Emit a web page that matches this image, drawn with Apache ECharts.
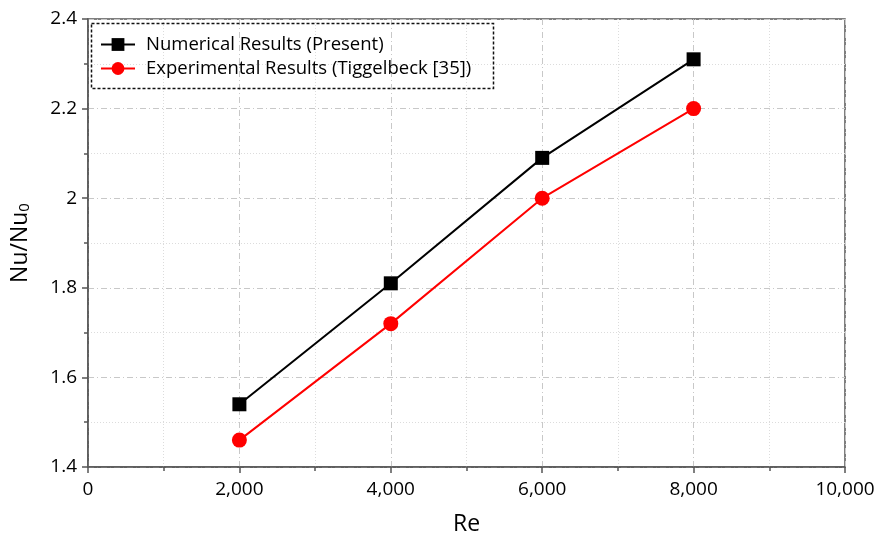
<!DOCTYPE html>
<html><head><meta charset="utf-8">
<script src="https://cdn.jsdelivr.net/npm/echarts@6/dist/echarts.min.js"></script>
<style>html,body{margin:0;padding:0;background:#fff}#c{width:881px;height:536px}</style>
</head><body><div id="c"></div>
<script>
const reValues = [2000, 4000, 6000, 8000];
const numerical = [1.54, 1.81, 2.09, 2.31];
const experimental = [1.46, 1.72, 2.00, 2.20];
const seriesNames = ['Numerical Results (Present)', 'Experimental Results (Tiggelbeck [35])'];

const chart = echarts.init(document.getElementById('c'));
const font = 'Open Sans, Noto Sans, sans-serif';
const axisCommon = {
  axisLine: {show: true, lineStyle: {color: '#555', width: 1.5}},
  axisTick: {show: true, inside: false, length: 6, lineStyle: {color: '#555', width: 1.5}},
  minorTick: {show: true, splitNumber: 2, length: 4, lineStyle: {color: '#555', width: 1.5}},
  splitLine: {show: true, lineStyle: {color: '#c8c8c8', width: 1, type: [6, 3, 1, 3]}},
  minorSplitLine: {show: true, lineStyle: {color: '#dcdcdc', width: 1, type: [1, 2]}},
  axisLabel: {color: '#000', fontSize: 19, fontFamily: font}
};
chart.setOption({
  animation: false,
  grid: {left: 88, right: 36, top: 19, bottom: 69, show: true, borderColor: '#555', borderWidth: 1.5,
         containLabel: false, outerBoundsMode: 'none'},
  xAxis: Object.assign({}, axisCommon, {
    type: 'value', min: 0, max: 10000, interval: 2000,
    name: 'Re', nameLocation: 'middle', nameGap: 46,
    nameTextStyle: {fontSize: 23, color: '#000', fontFamily: font},
    axisLabel: Object.assign({}, axisCommon.axisLabel, {margin: 13,
      formatter: v => v.toLocaleString('en-US')})
  }),
  yAxis: Object.assign({}, axisCommon, {
    type: 'value', min: 1.4, max: 2.4, interval: 0.2,
    name: '{a|Nu/Nu}{s|0}', nameLocation: 'middle', nameGap: 56,
    nameTextStyle: {fontSize: 23, color: '#000', fontFamily: font,
      rich: {a: {fontSize: 23, fontFamily: font, color: '#000'},
             s: {fontSize: 15, fontFamily: font, color: '#000', verticalAlign: 'bottom', padding: [9, 0, 0, 0]}}},
    axisLabel: Object.assign({}, axisCommon.axisLabel, {margin: 11,
      formatter: v => (Math.round(v * 10) / 10).toString()})
  }),
  legend: {
    left: 95, top: 30, orient: 'vertical', itemGap: 5,
    itemWidth: 34, itemHeight: 16,
    textStyle: {fontSize: 18.5, color: '#000', fontFamily: font, padding: [0, 0, 0, 6]},
    data: seriesNames
  },
  graphic: [{
    type: 'rect', left: 89, top: 21, z: 100, silent: true,
    shape: {width: 402, height: 65},
    style: {fill: null, stroke: '#111', lineWidth: 1.5, lineDash: [3, 2]}
  }],
  series: [
    {name: seriesNames[0], type: 'line', data: reValues.map((x, i) => [x, numerical[i]]),
     symbol: 'rect', symbolSize: 14, lineStyle: {color: '#000', width: 2},
     itemStyle: {color: '#000'}},
    {name: seriesNames[1], type: 'line', data: reValues.map((x, i) => [x, experimental[i]]),
     symbol: 'circle', symbolSize: 15, lineStyle: {color: '#f00', width: 2},
     itemStyle: {color: '#f00'}}
  ]
});
</script></body></html>
